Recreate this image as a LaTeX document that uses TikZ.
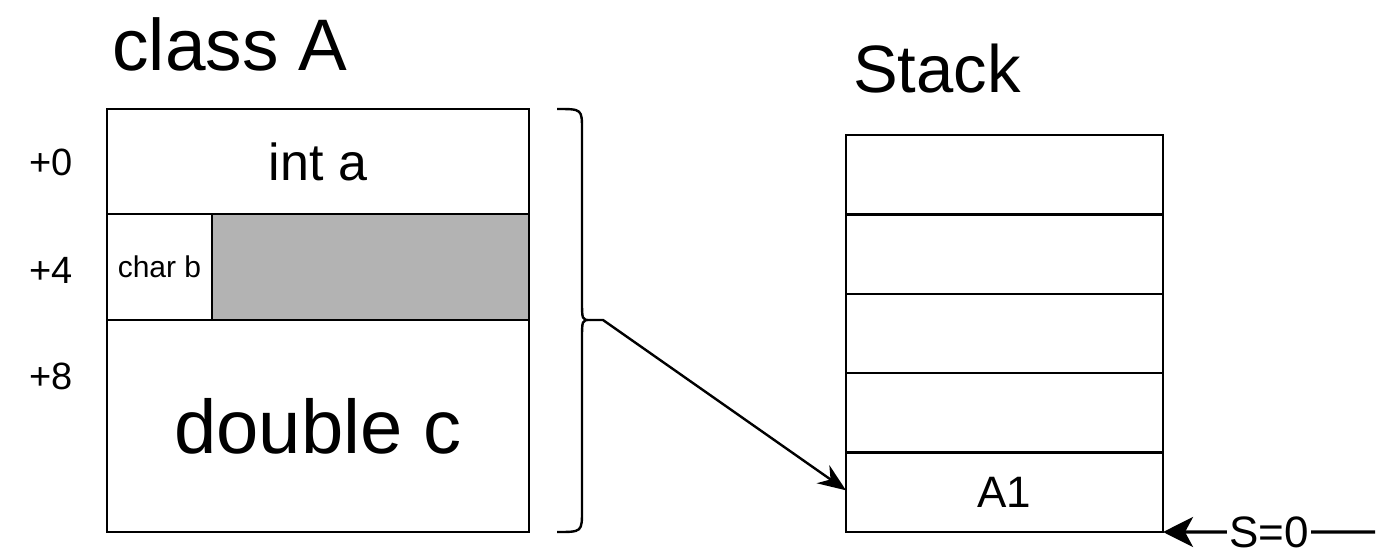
\documentclass[tikz,border=0pt]{standalone}
\usepackage{fontspec}
\setmainfont{Liberation Sans}
\usetikzlibrary{arrows.meta,positioning}
\definecolor{padgray}{HTML}{B3B3B3}

\begin{document}
\begin{tikzpicture}[x=0.5pt, y=-0.5pt, line width=1.2pt,
    field/.style={draw, inner sep=0pt, outer sep=0pt, minimum width=211pt, anchor=north west},
    slot/.style={draw, inner sep=0pt, outer sep=0pt, minimum width=158.5pt, minimum height=39.7pt,
                 font=\fontsize{22}{26}\selectfont},
    offset/.style={font=\fontsize{19}{22}\selectfont}]
\useasboundingbox (0,0) rectangle (1400,557);

% class A memory layout
\node[font=\fontsize{36.5}{42}\selectfont] (classA) at (230,44) {class A};
\node[field, minimum height=52.5pt, font=\fontsize{26}{30}\selectfont] (inta) at (107,109) {int a};
\node[field, minimum width=52.5pt, minimum height=53pt, font=\fontsize{15}{18}\selectfont] (charb) at (107,214) {char b};
\node[field, minimum width=158.5pt, minimum height=53pt, fill=padgray] (pad) at (212,214) {};
\node[field, minimum height=106pt, font=\fontsize{38}{44}\selectfont] (dblc) at (107,320) {double c};

\node[offset] (off0) at (51,162) {+0};
\node[offset] (off4) at (51,270) {+4};
\node[offset] (off8) at (51,376) {+8};

% brace
\draw (557,109) .. controls (582,109) .. (582,130) -- (582,300) .. controls (582,320) .. (590,320)
      .. controls (582,320) .. (582,340) -- (582,510) .. controls (582,532) .. (557,532);
\coordinate (tip) at (590,320);

% stack
\node[font=\fontsize{33.5}{38}\selectfont] (stacklbl) at (937,69) {Stack};
\node[slot, anchor=north west] (s5) at (846,135) {};
\node[slot, below=0pt of s5] (s4) {};
\node[slot, below=0pt of s4] (s3) {};
\node[slot, below=0pt of s3] (s2) {};
\node[slot, below=0pt of s2] (a1) {A1};

\draw[-{Stealth[length=14pt,width=11pt]}] (tip) -- ++(13,0) -- ([yshift=1pt]a1.west);

\coordinate (sfree) at (1375,532);
\draw[line width=1.6pt, -{Stealth[length=15pt,width=15pt,inset=4pt]}] (sfree) --
    node[fill=white, inner sep=1pt, font=\fontsize{22}{26}\selectfont] (sval) {S=0} (a1.south east);

\end{tikzpicture}
\end{document}
